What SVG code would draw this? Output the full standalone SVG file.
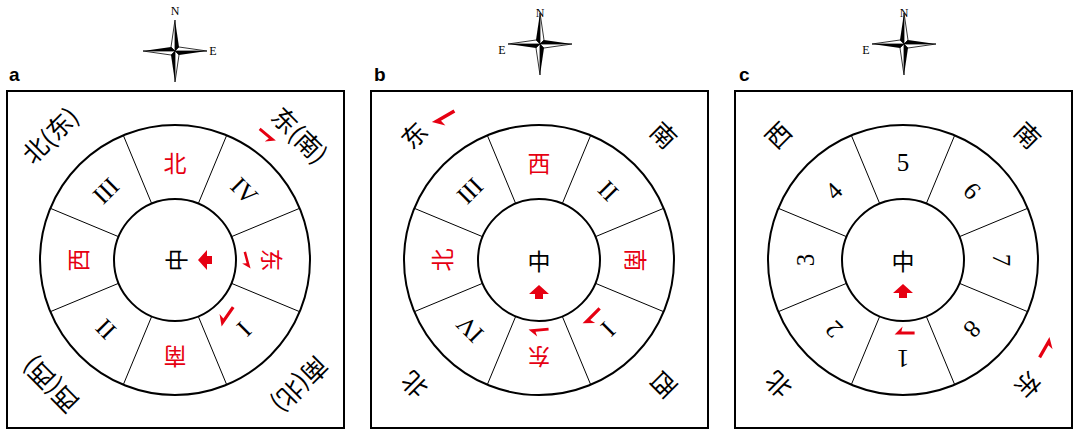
<svg xmlns="http://www.w3.org/2000/svg" xmlns:xlink="http://www.w3.org/1999/xlink" width="1080" height="436" viewBox="0 0 1080 436">
<style>
.box{fill:#fff;stroke:#000;stroke-width:2}
.ring{fill:none;stroke:#000;stroke-width:2}
.div{stroke:#000;stroke-width:1}
.t{font-family:"Noto Sans CJK SC",sans-serif;font-size:23px;text-anchor:middle;dominant-baseline:central}
.k{font-size:25px}
.r{font-family:"Liberation Serif","Noto Sans CJK SC",serif;font-size:25px;text-anchor:middle;dominant-baseline:central}
.red{fill:#e60012}
.lab{font-family:"Liberation Sans",sans-serif;font-size:19px;font-weight:bold}
.cl{font-family:"Liberation Serif",serif;font-size:12px;text-anchor:middle;dominant-baseline:central}
</style>
<defs>
<g id="dial">
<circle class="ring" r="135"/><circle class="ring" r="61"/>
<g class="div">
<line x1="23.3" y1="-56.4" x2="51.7" y2="-124.7"/>
<line x1="56.4" y1="-23.3" x2="124.7" y2="-51.7"/>
<line x1="56.4" y1="23.3" x2="124.7" y2="51.7"/>
<line x1="23.3" y1="56.4" x2="51.7" y2="124.7"/>
<line x1="-23.3" y1="56.4" x2="-51.7" y2="124.7"/>
<line x1="-56.4" y1="23.3" x2="-124.7" y2="51.7"/>
<line x1="-56.4" y1="-23.3" x2="-124.7" y2="-51.7"/>
<line x1="-23.3" y1="-56.4" x2="-51.7" y2="-124.7"/>
</g>
</g>
<polygon id="harp" points="-12,-1.8 13,-1.8 3,8 4.5,1.8 -12,1.8" fill="#e60012"/>
<polygon id="blk" points="0,-8 10,1 4,1 4,6 -4,6 -4,1 -10,1" fill="#e60012"/>
<g id="star">
<polygon points="0,-31 4,-4 0,0" fill="#000"/><polygon points="0,-31 -4,-4 0,0" fill="#fff" stroke="#000" stroke-width="0.8"/>
<polygon points="32,0 4,4 0,0" fill="#000"/><polygon points="32,0 4,-4 0,0" fill="#fff" stroke="#000" stroke-width="0.8"/>
<polygon points="0,31 -4,4 0,0" fill="#000"/><polygon points="0,31 4,4 0,0" fill="#fff" stroke="#000" stroke-width="0.8"/>
<polygon points="-32,0 -4,-4 0,0" fill="#000"/><polygon points="-32,0 -4,4 0,0" fill="#fff" stroke="#000" stroke-width="0.8"/>
</g>
</defs>

<g id="compass-a"><use xlink:href="#star" x="175" y="51"/><text class="cl" x="175" y="11">N</text><text class="cl" x="213" y="51">E</text></g>
<g id="compass-b"><g transform="translate(540,44) scale(-1,1)"><use xlink:href="#star"/></g><text class="cl" x="540" y="13">N</text><text class="cl" x="502" y="50">E</text></g>
<g id="compass-c"><g transform="translate(904,44) scale(-1,1)"><use xlink:href="#star"/></g><text class="cl" x="904" y="13">N</text><text class="cl" x="866" y="50">E</text></g>

<text class="lab" x="9" y="81">a</text>
<text class="lab" x="374" y="81">b</text>
<text class="lab" x="739" y="81">c</text>

<g id="panel-a">
<rect class="box" x="7" y="91" width="337" height="337"/>
<g transform="translate(175,260)">
<use xlink:href="#dial"/>
<text class="t red" transform="rotate(0) translate(0,-98)">北</text>
<text class="r" transform="rotate(-45) translate(0,-98)">III</text>
<text class="r" transform="rotate(45) translate(0,-98)">IV</text>
<text class="t red" transform="rotate(90) translate(0,-98)">东</text>
<text class="r" transform="rotate(135) translate(0,-98)">I</text>
<text class="t red" transform="rotate(180) translate(0,-98)">南</text>
<text class="r" transform="rotate(-135) translate(0,-98)">II</text>
<text class="t red" transform="rotate(-90) translate(0,-98)">西</text>
<text class="t" transform="rotate(-90)">中</text>
<use xlink:href="#blk" transform="translate(31,0) rotate(-90)"/>
<text class="t k" transform="rotate(-45) translate(0,-178)">北(东)</text>
<text class="t k" transform="rotate(45) translate(0,-178)">东(南)</text>
<text class="t k" transform="rotate(135) translate(0,-178)">南(北)</text>
<text class="t k" transform="rotate(-135) translate(0,-178)">西(西)</text>
<use xlink:href="#harp" transform="translate(92,-125) rotate(40) scale(0.8)"/>
<use xlink:href="#harp" transform="translate(72,0) rotate(75) scale(0.7)"/>
<use xlink:href="#harp" transform="translate(52,56) rotate(125) scale(0.9)"/>
</g>
</g>

<g id="panel-b">
<rect class="box" x="371" y="91" width="337" height="337"/>
<g transform="translate(539,260)">
<use xlink:href="#dial"/>
<text class="t red" transform="rotate(0) translate(0,-98)">西</text>
<text class="r" transform="rotate(-45) translate(0,-98)">III</text>
<text class="r" transform="rotate(45) translate(0,-98)">II</text>
<text class="t red" transform="rotate(90) translate(0,-98)">南</text>
<text class="r" transform="rotate(135) translate(0,-98)">I</text>
<text class="t red" transform="rotate(180) translate(0,-98)">东</text>
<text class="r" transform="rotate(-135) translate(0,-98)">IV</text>
<text class="t red" transform="rotate(-90) translate(0,-98)">北</text>
<text class="t">中</text>
<use xlink:href="#blk" transform="translate(0,33)"/>
<text class="t k" transform="rotate(-45) translate(0,-178)">东</text>
<text class="t k" transform="rotate(45) translate(0,-178)">南</text>
<text class="t k" transform="rotate(135) translate(0,-178)">西</text>
<text class="t k" transform="rotate(-135) translate(0,-178)">北</text>
<use xlink:href="#harp" transform="translate(-95,-143) rotate(-30) scale(-1,1)"/>
<use xlink:href="#harp" transform="translate(53,56) rotate(-45) scale(-0.9,0.9)"/>
<use xlink:href="#harp" transform="translate(0,70) rotate(-5) scale(-0.8,0.8)"/>
</g>
</g>

<g id="panel-c">
<rect class="box" x="735" y="91" width="337" height="337"/>
<g transform="translate(903,260)">
<use xlink:href="#dial"/>
<text class="r" transform="rotate(0) translate(0,-98)">5</text>
<text class="r" transform="rotate(-45) translate(0,-98)">4</text>
<text class="r" transform="rotate(45) translate(0,-98)">6</text>
<text class="r" transform="rotate(90) translate(0,-98)">7</text>
<text class="r" transform="rotate(135) translate(0,-98)">8</text>
<text class="r" transform="rotate(180) translate(0,-98)">1</text>
<text class="r" transform="rotate(-135) translate(0,-98)">2</text>
<text class="r" transform="rotate(-90) translate(0,-98)">3</text>
<text class="t">中</text>
<use xlink:href="#blk" transform="translate(0,32)"/>
<text class="t k" transform="rotate(-45) translate(0,-178)">西</text>
<text class="t k" transform="rotate(45) translate(0,-178)">南</text>
<text class="t k" transform="rotate(135) translate(0,-178)">东</text>
<text class="t k" transform="rotate(-135) translate(0,-178)">北</text>
<use xlink:href="#harp" transform="translate(2,73) rotate(180) scale(0.8)"/>
<use xlink:href="#harp" transform="translate(142,88) rotate(-60) scale(0.9)"/>
</g>
</g>
</svg>
